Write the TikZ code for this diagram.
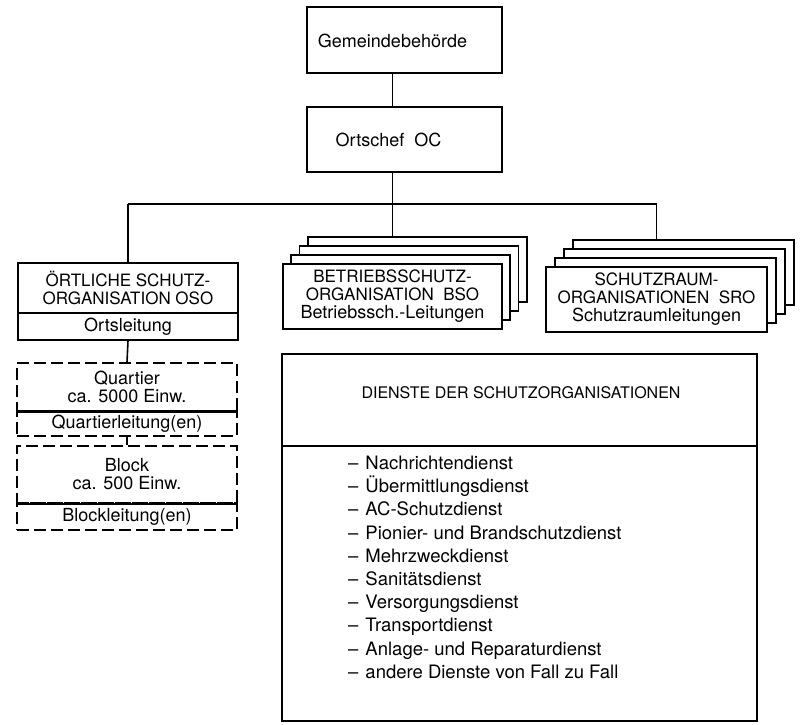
\documentclass[tikz,border=0pt]{standalone}
\usepackage{fontspec}
\setmainfont{TeX Gyre Heros}

\begin{document}
\begin{tikzpicture}[x=1pt, y=-1pt,
  box/.style={draw, line width=1.7pt, fill=white, inner sep=0pt, align=center,
    minimum width=220pt, font=\fontsize{18}{18}\selectfont},
  capsbox/.style={box, font=\fontsize{17}{18}\selectfont},
  dashbox/.style={box, dash pattern=on 12pt off 5pt},
  txt/.style={inner sep=0pt, align=center, font=\fontsize{18}{18}\selectfont},
  item/.style={anchor=west, inner sep=0pt, text height=13pt, text depth=4pt,
    font=\fontsize{18.5}{18}\selectfont},
  link/.style={line width=1.6pt}
]

\useasboundingbox (0,0) rectangle (800,724);

\node[box, minimum width=195pt, minimum height=66pt] (gemeinde) at (404.5,40) {};
\node[txt] (gemeindetxt) at (392.5,41) {Gemeindebehörde};
\node[box, minimum width=195pt, minimum height=65pt] (ortschef) at (404.5,139.5) {};
\node[txt] (ortscheftxt) at (388.5,140) {Ortschef~ OC};

\coordinate (split) at (392.5,204);

% Betriebsschutz, gestapelt
\foreach \k in {3,2,1}
  \node[box, minimum width=219pt, minimum height=65pt] (bso\k) at (392.5+8.3*\k, 296.5-9*\k) {};
\node[capsbox, minimum width=219pt, minimum height=65pt] (bso) at (392.5,296.5)
  {BETRIEBSSCHUTZ-\\ORGANISATION~ BSO\\{\fontsize{18}{18}\selectfont Betriebssch.-Leitungen}};

% Schutzraeume, gestapelt
\foreach \k in {3,2,1}
  \node[box, minimum width=221pt, minimum height=65pt] (sro\k) at (656.5+9*\k, 299.5-9*\k) {};
\node[capsbox, minimum width=221pt, minimum height=65pt] (sro) at (656.5,299.5)
  {SCHUTZRAUM-\\ORGANISATIONEN~ SRO\\{\fontsize{18}{18}\selectfont Schutzraumleitungen}};

% oertliche Organisation
\node[capsbox, minimum height=50pt] (oso) at (128,288) {ÖRTLICHE SCHUTZ-\\ORGANISATION OSO};
\node[box, minimum height=27pt] (osoleit) at (128,326.5) {Ortsleitung};

\node[dashbox, minimum height=48pt] (quart) at (127,387) {Quartier\\ca. 5000 Einw.};
\node[dashbox, minimum height=25pt] (quartleit) at (127,423.5) {Quartierleitung(en)};
\draw[link] (quart.south west) -- (quart.south east);

\node[dashbox, minimum height=57pt] (block) at (127,474.5) {Block\\ca. 500 Einw.};
\node[dashbox, minimum height=27pt] (blockleit) at (127,516.5) {Blockleitung(en)};
\draw[link] (block.south west) -- (block.south east);

% Dienste
\node[box, minimum width=475pt, minimum height=92pt] (dienstkopf) at (519.5,400) {};
\node[txt, font=\fontsize{16}{18}\selectfont] (diensttitel) at (521,393) {DIENSTE DER SCHUTZORGANISATIONEN};
\node[box, minimum width=475pt, minimum height=275pt] (dienstliste) at (519.5,583.5) {};
\foreach \dienst [count=\i from 0] in {Nachrichtendienst, Übermittlungsdienst, AC-Schutzdienst,
    Pionier- und Brandschutzdienst, Mehrzweckdienst, Sanitätsdienst, Versorgungsdienst,
    Transportdienst, Anlage- und Reparaturdienst, andere Dienste von Fall zu Fall}
  \node[item] (dienst\i) at (348,465+23.2*\i) {–\hspace{7pt}\dienst};

\draw[link] (gemeinde.south -| gemeindetxt) -- (ortschef.north -| gemeindetxt);
\draw[link] (ortschef.south -| gemeindetxt) -- (bso3.north -| gemeindetxt);
\draw[link] (oso |- split) -- (sro |- split);
\draw[link] (oso |- split) -- (oso.north);
\draw[link] (sro |- split) -- (sro3.north -| sro);
\draw[link] (osoleit.south) -- (quart.north);
\draw[link] (quartleit.south) -- (block.north);

\end{tikzpicture}
\end{document}
